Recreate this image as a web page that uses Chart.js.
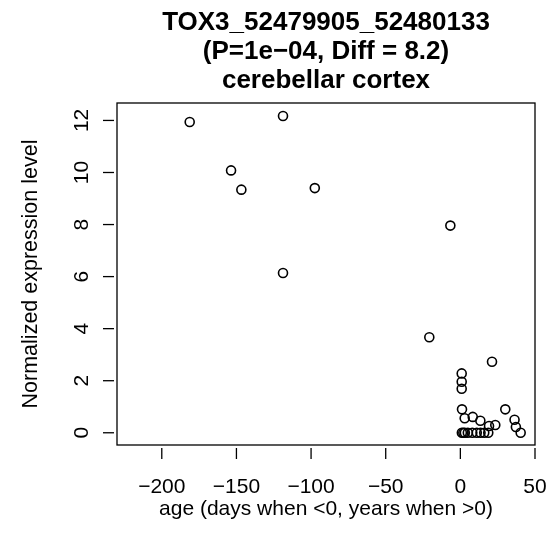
<!DOCTYPE html>
<html>
<head>
<meta charset="utf-8">
<script src="https://cdn.jsdelivr.net/npm/chart.js@4"></script>
<style>
  html, body { margin: 0; padding: 0; background: #fff; }
  #wrap { width: 549px; height: 555px; }
</style>
</head>
<body>
<div id="wrap"><canvas id="chart" width="549" height="555"></canvas></div>
<script>
// 数据：年龄（<0 为天，>0 为年）与表达水平
const ages = [-181.3, -153.6, -146.7, -118.8, -118.8, -97.5, -6.7, -20.8,
              0.9, 0.9, 0.9, 1.1, 2.9, 8.3, 13.4, 19.2, 23.4, 21.2, 30.1, 36.3, 37.2, 40.4,
              1, 2, 3, 5, 8, 11, 13.5, 16, 18.7];
const expression = [11.94, 10.08, 9.34, 12.17, 6.14, 9.40, 7.96, 3.67,
                    2.28, 1.96, 1.69, 0.90, 0.56, 0.61, 0.46, 0.26, 0.30, 2.73, 0.90, 0.50, 0.22, 0.0,
                    0, 0, 0, 0, 0, 0, 0, 0, 0];
const xTicks = [-200, -150, -100, -50, 0, 50];
const yTicks = [0, 2, 4, 6, 8, 10, 12];
const titleLines = ['TOX3_52479905_52480133', '(P=1e\u221204, Diff = 8.2)', 'cerebellar cortex'];
const xTitle = 'age (days when <0, years when >0)';
const yTitle = 'Normalized expression level';

const points = ages.map((a, i) => ({ x: a, y: expression[i] }));

// R 风格的坐标框、刻度和文字
const rAxes = {
    id: 'rAxes',
    afterDraw(chart) {
        const ctx = chart.ctx;
        const area = chart.chartArea;
        const xs = chart.scales.x;
        const ys = chart.scales.y;
        ctx.save();
        ctx.strokeStyle = '#000';
        ctx.fillStyle = '#000';
        ctx.lineWidth = 1.3;
        ctx.strokeRect(area.left, area.top, area.right - area.left, area.bottom - area.top);

        // x 轴刻度
        ctx.font = '21px "Liberation Sans", Arial, sans-serif';
        ctx.textAlign = 'center';
        ctx.textBaseline = 'alphabetic';
        xTicks.forEach(v => {
            const px = xs.getPixelForValue(v);
            ctx.beginPath();
            ctx.moveTo(px, area.bottom + 3);
            ctx.lineTo(px, area.bottom + 14);
            ctx.stroke();
            ctx.fillText(String(v).replace('-', '\u2212'), px, 493);
        });

        // y 轴刻度（旋转）
        yTicks.forEach(v => {
            const py = ys.getPixelForValue(v);
            ctx.beginPath();
            ctx.moveTo(area.left - 3, py);
            ctx.lineTo(area.left - 14, py);
            ctx.stroke();
            ctx.save();
            ctx.translate(88, py);
            ctx.rotate(-Math.PI / 2);
            ctx.fillText(String(v), 0, 0);
            ctx.restore();
        });

        // 轴标题
        const cx = (area.left + area.right) / 2;
        const cy = (area.top + area.bottom) / 2;
        ctx.fillText(xTitle, cx, 515);
        ctx.save();
        ctx.translate(37, cy);
        ctx.rotate(-Math.PI / 2);
        ctx.font = '21.5px "Liberation Sans", Arial, sans-serif';
        ctx.fillText(yTitle, 0, 0);
        ctx.restore();

        // 主标题
        ctx.font = 'bold 26px "Liberation Sans", Arial, sans-serif';
        [30, 59, 88].forEach((y, i) => ctx.fillText(titleLines[i], cx, y));
        ctx.restore();
    }
};

new Chart(document.getElementById('chart').getContext('2d'), {
    type: 'scatter',
    data: {
        datasets: [{
            data: points,
            pointStyle: 'circle',
            pointRadius: 4.5,
            pointHoverRadius: 4.5,
            borderColor: '#000',
            backgroundColor: 'rgba(0,0,0,0)',
            pointBorderWidth: 1.6
        }]
    },
    options: {
        responsive: false,
        animation: false,
        layout: { padding: { left: 117, right: 14, top: 103, bottom: 110 } },
        plugins: {
            legend: { display: false },
            tooltip: { enabled: false }
        },
        scales: {
            x: { type: 'linear', min: -230, max: 50, display: false },
            y: { type: 'linear', min: -0.47, max: 12.67, display: false }
        }
    },
    plugins: [rAxes]
});
</script>
</body>
</html>
